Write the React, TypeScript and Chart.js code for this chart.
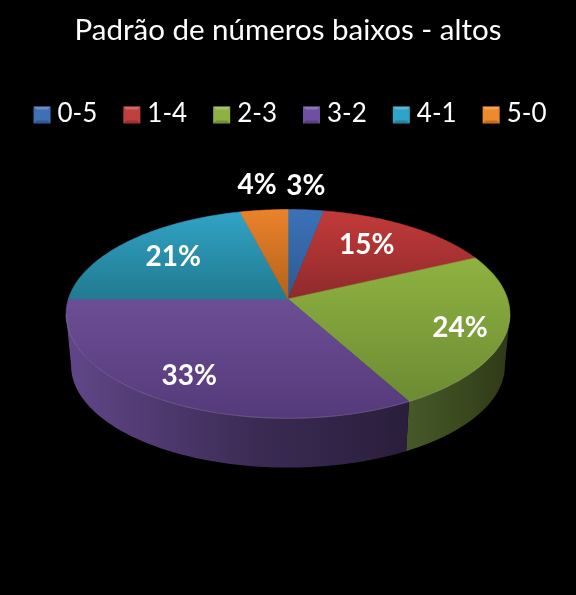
import { useEffect, useRef } from "react";
import { Chart, registerables } from "chart.js";

Chart.register(...registerables);

const titleText = "Padrão de números baixos - altos";
const categories = ["0-5", "1-4", "2-3", "3-2", "4-1", "5-0"];
const percents = [3, 15, 24, 33, 21, 4];

// top face, light to dark going down the slice
const faceLight = ["#3b72b8", "#c33a3a", "#8fb241", "#6c4e96", "#31a3c6", "#ea822b"];
const faceDark = ["#2b5a90", "#8f2a2b", "#6c8b33", "#553a7a", "#217a90", "#b3621a"];
// side wall, from the slice's first edge to its last
const wallStart = ["#000", "#000", "#2f3b18", "#2a1e3c", "#000", "#000"];
const wallMiddle = ["#000", "#000", "#3a4a1e", "#3b2b54", "#000", "#000"];
const wallEnd = ["#000", "#000", "#47592a", "#604687", "#000", "#000"];
const legendColors = ["#3f6fb5", "#c0403d", "#8db243", "#6f4fa0", "#2ea4c8", "#ef8a2c"];
// where the label sits along the slice: fraction of radius, turn in degrees
const labelRadius = [1.32, 0.69, 0.8, 0.79, 0.71, 1.33];
const labelTurn = [-1.2, -3.6, 1.7, 0.3, 0.7, 0];

// perspective of the disc, relative to the chart's own pie radius
const X_STRETCH = 221 / 164;
const Y_STRETCH = 102.9 / 164;
const PERSPECTIVE = 1 / 7;
const FLOOR_SCALE = 216 / 221;
const FLOOR_DROP = 52;

type Arc = { x: number; y: number; startAngle: number; endAngle: number; outerRadius: number };

function project(arc: Arc, angle: number, t = 1, scale = 1, drop = 0) {
  const u = Math.cos(angle) * t;
  const v = Math.sin(angle) * t;
  const w = 1 - PERSPECTIVE * v;
  return {
    x: arc.x + (arc.outerRadius * X_STRETCH * scale * u) / w,
    y: arc.y + drop + (arc.outerRadius * Y_STRETCH * scale * v) / w,
  };
}

function edgePoints(arc: Arc, from: number, to: number, scale = 1, drop = 0) {
  const pts = [];
  const steps = Math.max(2, Math.ceil((to - from) / 0.02));
  for (let i = 0; i <= steps; i++) pts.push(project(arc, from + ((to - from) * i) / steps, 1, scale, drop));
  return pts;
}

function drawWall(ctx: CanvasRenderingContext2D, arc: Arc, i: number) {
  const limit = Math.asin(PERSPECTIVE);
  const turn = Math.PI * 2;
  // angles of the front of the disc, the only part of the wall we can see
  let from = arc.startAngle;
  let to = arc.endAngle;
  if (from > Math.PI + 1) {
    from -= turn;
    to -= turn;
  }
  from = Math.max(from, limit);
  to = Math.min(to, Math.PI - limit);
  if (to <= from) return;
  const upper = edgePoints(arc, from, to);
  const lower = edgePoints(arc, from, to, FLOOR_SCALE, FLOOR_DROP);
  const g = ctx.createLinearGradient(lower[0].x, 0, lower[lower.length - 1].x, 0);
  g.addColorStop(0, wallStart[i]);
  g.addColorStop(0.45, wallMiddle[i]);
  g.addColorStop(1, wallEnd[i]);
  ctx.beginPath();
  upper.forEach((p, k) => (k ? ctx.lineTo(p.x, p.y) : ctx.moveTo(p.x, p.y)));
  lower.reverse().forEach((p) => ctx.lineTo(p.x, p.y));
  ctx.closePath();
  ctx.fillStyle = g;
  ctx.fill();
}

function drawFace(ctx: CanvasRenderingContext2D, arc: Arc, i: number) {
  const pts = edgePoints(arc, arc.startAngle, arc.endAngle);
  const ys = pts.map((p) => p.y).concat(arc.y);
  const g = ctx.createLinearGradient(0, Math.min(...ys), 0, Math.max(...ys));
  g.addColorStop(0, faceLight[i]);
  g.addColorStop(1, faceDark[i]);
  ctx.beginPath();
  ctx.moveTo(arc.x, arc.y);
  pts.forEach((p) => ctx.lineTo(p.x, p.y));
  ctx.closePath();
  ctx.fillStyle = g;
  ctx.fill();
  ctx.strokeStyle = g;
  ctx.lineWidth = 0.6;
  ctx.stroke();
}

function drawRim(ctx: CanvasRenderingContext2D, arc: Arc) {
  const limit = Math.asin(PERSPECTIVE);
  const pts = edgePoints(arc, limit, Math.PI - limit);
  ctx.beginPath();
  pts.forEach((p, k) => (k ? ctx.lineTo(p.x, p.y) : ctx.moveTo(p.x, p.y)));
  ctx.strokeStyle = "rgba(255,255,255,0.16)";
  ctx.lineWidth = 1;
  ctx.stroke();
}

// The library works out the slice angles, this only tilts them into 3D.
const pie3d = {
  id: "pie3d",
  afterLayout(chart: Chart) {
    // reference legend sits a little right of centre
    const legend = chart.legend as any;
    legend.left += 2;
    legend.right += 2;
    legend.top += 1;
    legend.bottom += 1;
    legend.legendHitBoxes.forEach((b: any) => {
      b.left += 2;
      b.top += 1;
    });
  },
  beforeDatasetsDraw(chart: Chart) {
    const ctx = chart.ctx;
    const arcs = chart.getDatasetMeta(0).data as unknown as Arc[];
    arcs.forEach((arc, i) => drawWall(ctx, arc, i));
    arcs.forEach((arc, i) => drawFace(ctx, arc, i));
    drawRim(ctx, arcs[0]);
    return false;
  },
  afterDraw(chart: Chart) {
    const ctx = chart.ctx;
    const arcs = chart.getDatasetMeta(0).data as unknown as Arc[];
    ctx.save();
    ctx.font = "bold 28px Lato";
    ctx.fillStyle = "#fff";
    ctx.textAlign = "center";
    ctx.textBaseline = "middle";
    arcs.forEach((arc, i) => {
      const mid = (arc.startAngle + arc.endAngle) / 2 + (labelTurn[i] * Math.PI) / 180;
      const p = project(arc, mid, labelRadius[i]);
      ctx.fillText(percents[i] + "%", p.x, p.y);
    });
    // bevelled legend keys, the legend itself only lays out and writes the text
    const boxes = (chart.legend as any).legendHitBoxes;
    boxes.forEach((b: any, i: number) => {
      const size = 17;
      const x = b.left;
      const y = b.top + b.height / 2 - size / 2;
      const bevel = 3;
      ctx.fillStyle = legendColors[i];
      ctx.fillRect(x, y, size, size);
      ctx.fillStyle = "rgba(255,255,255,0.22)";
      ctx.beginPath();
      ctx.moveTo(x, y);
      ctx.lineTo(x + size, y);
      ctx.lineTo(x + size - bevel, y + bevel);
      ctx.lineTo(x + bevel, y + bevel);
      ctx.fill();
      ctx.fillStyle = "rgba(0,0,0,0.2)";
      ctx.beginPath();
      ctx.moveTo(x, y + size);
      ctx.lineTo(x + size, y + size);
      ctx.lineTo(x + size - bevel, y + size - bevel);
      ctx.lineTo(x + bevel, y + size - bevel);
      ctx.fill();
    });
    ctx.restore();
  },
};

export default function App() {
  const canvasRef = useRef<HTMLCanvasElement | null>(null);

  useEffect(() => {
    if (!canvasRef.current) return;
    const chart = new Chart(canvasRef.current, {
      type: "pie",
      data: {
        labels: categories,
        datasets: [{ data: percents, backgroundColor: legendColors, borderWidth: 0 }],
      },
      options: {
        animation: false,
        responsive: false,
        devicePixelRatio: 1,
        layout: { padding: { bottom: 133 } },
        plugins: {
          title: {
            display: true,
            text: titleText,
            color: "#fff",
            font: { family: "Lato", size: 29.5, weight: "normal" },
            padding: { top: 13, bottom: 25.6 },
          },
          legend: {
            position: "top",
            labels: {
              color: "#fff",
              font: { family: "Lato", size: 26 },
              boxWidth: 11,
              boxHeight: 10,
              padding: 26,
              generateLabels: () =>
                categories.map((text, index) => ({
                  text,
                  index,
                  fontColor: "#fff",
                  fillStyle: "rgba(0,0,0,0)",
                  strokeStyle: "rgba(0,0,0,0)",
                  lineWidth: 0,
                })),
            },
          },
          tooltip: { enabled: false },
        },
      },
      plugins: [pie3d],
    });
    return () => chart.destroy();
  }, []);

  return (
    <div style={{ position: "fixed", left: 0, top: 0, width: 576, height: 595, background: "#000" }}>
      <canvas ref={canvasRef} width={576} height={595} style={{ display: "block" }} />
    </div>
  );
}
